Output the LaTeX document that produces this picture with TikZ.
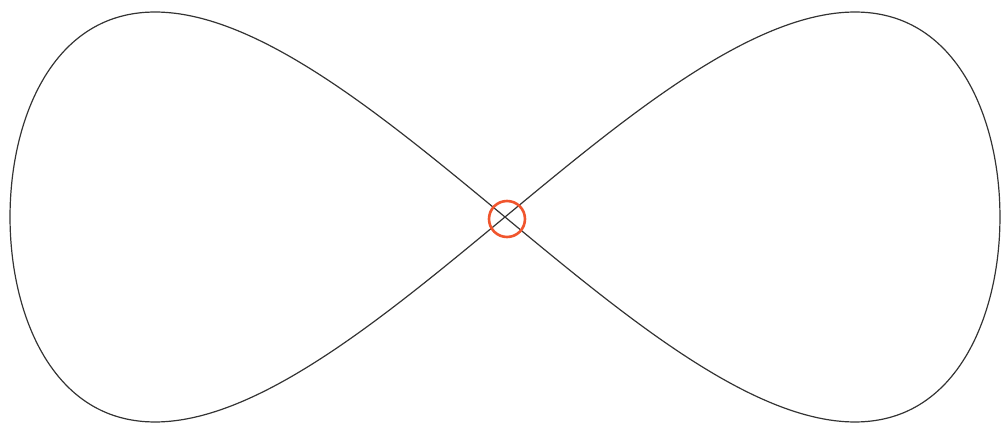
\documentclass[tikz,border=0pt]{standalone}
\begin{document}
\begin{tikzpicture}[x=1pt,y=-1pt,
  curve/.style={draw=black!80, line width=1.2pt},
  mark circle/.style={circle, draw=orangered, line width=2.6pt, minimum size=36pt, inner sep=0pt}]
\definecolor{orangered}{RGB}{240,85,45}
\useasboundingbox (0,0) rectangle (1002,430);
\draw[curve, smooth, samples=240, domain=0:360, variable=\t]
  plot ({505+495*cos(\t)}, {217+410*sin(\t)*cos(\t)}) -- cycle;
\node[mark circle] (c) at (507,219) {};
\end{tikzpicture}
\end{document}
